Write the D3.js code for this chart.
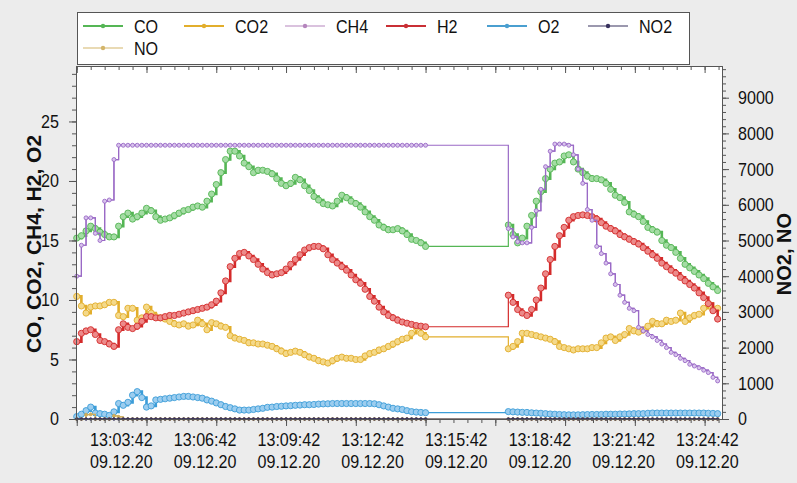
<!DOCTYPE html>
<html>
<head>
<meta charset="utf-8">
<script src="https://cdn.jsdelivr.net/npm/d3@7"></script>
<style>
  body { margin: 0; background: #ececec; }
  svg { display: block; font-family: "Liberation Sans", Arial, sans-serif; }
</style>
</head>
<body>
<svg width="797" height="483"></svg>
<script>
// ************** Data *****************

// logger samples, seconds after 13:00:00 (10 s interval, two runs with a pause between)
const sampleTimes = [].concat(d3.range(126, 886, 10), d3.range(1054, 1514, 10));

const coValues = [
  15.2,15.4,15.8,16.2,16.0,15.7,15.5,15.3,15.3,16.2,
  17.0,17.3,16.8,17.0,17.3,17.7,17.5,17.0,16.7,16.8,
  16.9,17.1,17.3,17.5,17.6,17.8,17.9,17.8,18.3,18.9,
  19.7,20.7,21.8,22.5,22.5,22.1,21.5,21.2,20.7,20.9,
  20.9,20.8,20.6,20.2,19.8,19.6,19.8,20.3,20.1,19.6,
  19.2,18.7,18.4,18.1,18.0,17.9,18.3,18.8,18.6,18.3,
  18.1,17.8,17.4,17.0,16.7,16.3,16.1,15.9,15.9,16.0,
  15.8,15.5,15.1,15.0,14.8,14.5,
  16.3,15.5,14.8,15.2,16.2,17.1,18.3,19.1,20.2,21.0,
  21.5,21.6,22.1,22.2,21.6,21.0,20.7,20.4,20.2,20.2,
  20.1,19.8,19.3,18.8,18.6,18.2,17.4,17.2,17.0,16.6,
  16.1,15.9,15.7,15.0,14.6,14.4,14.0,13.5,13.0,12.7,
  12.4,12.1,11.8,11.4,11.1,10.8
];

const co2Values = [
  10.3,9.5,8.9,9.4,9.5,9.5,9.6,9.8,9.8,8.7,
  8.6,9.3,9.3,8.3,8.5,9.4,8.9,8.6,8.5,8.4,
  8.2,8.0,7.9,8.0,7.8,7.9,8.3,8.0,7.5,8.1,
  8.0,7.8,7.7,7.0,6.8,6.7,6.6,6.4,6.4,6.3,
  6.3,6.2,6.1,5.9,5.7,5.5,5.6,5.7,5.6,5.4,
  5.2,5.1,4.9,4.8,4.7,4.9,5.1,5.2,5.1,5.1,
  5.0,5.0,5.3,5.5,5.6,5.8,5.9,6.1,6.3,6.5,
  6.7,6.8,7.2,7.7,7.2,6.9,
  5.9,6.1,6.5,7.2,7.2,7.1,7.0,6.9,6.8,6.7,
  6.5,6.1,6.0,5.9,5.8,5.9,5.9,5.9,6.0,6.0,
  6.4,6.8,6.9,6.6,6.9,7.1,7.6,7.4,7.3,7.5,
  7.8,8.2,8.0,8.0,8.3,8.2,8.3,8.9,8.2,8.5,
  8.7,8.8,9.3,9.7,9.2,9.3
];

const ch4Values = [
  12.0,14.6,16.9,16.9,15.6,15.0,18.3,18.4,21.8,23.0,
  23.0,23.0,23.0,23.0,23.0,23.0,23.0,23.0,23.0,23.0,
  23.0,23.0,23.0,23.0,23.0,23.0,23.0,23.0,23.0,23.0,
  23.0,23.0,23.0,23.0,23.0,23.0,23.0,23.0,23.0,23.0,
  23.0,23.0,23.0,23.0,23.0,23.0,23.0,23.0,23.0,23.0,
  23.0,23.0,23.0,23.0,23.0,23.0,23.0,23.0,23.0,23.0,
  23.0,23.0,23.0,23.0,23.0,23.0,23.0,23.0,23.0,23.0,
  23.0,23.0,23.0,23.0,23.0,23.0,
  16.0,15.3,14.9,14.8,14.8,16.1,17.5,19.3,21.2,22.5,
  23.1,23.1,23.1,23.0,22.2,21.0,19.8,17.6,16.7,14.5,
  13.9,13.1,12.2,11.3,10.4,9.8,9.3,9.1,7.7,7.4,
  7.1,6.9,6.6,6.3,6.0,5.6,5.4,5.1,4.9,4.6,
  4.45,4.3,4.1,3.9,3.5,3.2
];

const h2Values = [
  6.5,7.2,7.4,7.5,7.1,6.6,6.5,6.3,6.1,7.5,
  8.0,7.7,7.6,7.8,8.2,8.6,8.6,8.5,8.5,8.6,
  8.7,8.7,8.8,8.9,9.0,9.1,9.2,9.3,9.4,9.6,
  9.9,10.6,11.6,12.8,13.5,13.9,14.0,13.7,13.4,13.0,
  12.6,12.3,12.1,12.2,12.3,12.6,13.0,13.4,13.8,14.2,
  14.4,14.5,14.5,14.3,13.8,13.4,13.1,12.8,12.5,12.1,
  11.7,11.4,10.9,10.3,9.9,9.4,9.0,8.7,8.5,8.3,
  8.15,8.05,7.95,7.85,7.8,7.75,
  10.4,9.8,9.2,8.9,8.7,9.2,10.0,11.0,12.2,13.4,
  14.5,15.4,16.1,16.7,17.0,17.1,17.15,17.1,17.0,16.8,
  16.5,16.2,16.0,15.8,15.5,15.3,15.1,14.9,14.7,14.4,
  14.1,13.8,13.5,13.1,12.8,12.5,12.25,11.9,11.6,11.3,
  11.0,10.6,10.2,9.7,9.1,8.4
];

const o2Values = [
  0.2,0.4,0.7,1.0,0.5,0.45,0.4,0.3,0.6,1.3,
  1.15,1.4,2.0,2.3,1.8,1.0,1.1,1.6,1.65,1.7,
  1.75,1.8,1.85,1.9,1.9,1.85,1.8,1.75,1.6,1.5,
  1.35,1.2,1.05,0.95,0.85,0.75,0.75,0.75,0.8,0.85,
  0.9,0.98,1.0,1.05,1.07,1.1,1.12,1.15,1.17,1.2,
  1.2,1.22,1.25,1.27,1.28,1.3,1.3,1.3,1.3,1.3,
  1.3,1.3,1.3,1.3,1.28,1.2,1.1,1.0,0.9,0.85,
  0.8,0.7,0.62,0.58,0.55,0.53,
  0.62,0.6,0.58,0.56,0.55,0.52,0.5,0.48,0.45,0.42,
  0.4,0.38,0.36,0.35,0.35,0.35,0.36,0.37,0.38,0.38,
  0.38,0.4,0.4,0.4,0.42,0.42,0.43,0.45,0.45,0.45,
  0.48,0.5,0.5,0.5,0.5,0.5,0.5,0.5,0.5,0.5,
  0.5,0.5,0.5,0.48,0.47,0.45
];

// right axis (ppm)
const no2Values = [
  0,0,0,0,0,0,0,0,0,0, 0,0,0,0,0,0,0,0,0,0,
  0,0,0,0,0,0,0,0,0,0, 0,0,0,0,0,0,0,0,0,0,
  0,0,0,0,0,0,0,0,0,0, 0,0,0,0,0,0,0,0,0,0,
  0,0,0,0,0,0,0,0,0,0, 0,0,0,0,0,0,
  0,0,0,0,0,0,0,0,0,0, 0,0,0,0,0,0,0,0,0,0,
  0,0,0,0,0,0,0,0,0,0, 0,0,0,0,0,0,0,0,0,0,
  0,0,0,0,0,0
];

const noValues = [
  0,0,120,130,0,0,0,0,90,60, 0,0,0,0,0,0,0,0,0,0,
  0,0,0,0,0,0,0,0,0,0, 0,0,0,0,0,0,0,0,0,0,
  0,0,0,0,0,0,0,0,0,0, 0,0,0,0,0,0,0,0,0,0,
  0,0,0,0,0,0,0,0,0,0, 0,0,0,0,0,0,
  0,0,0,0,0,0,0,0,0,0, 0,0,0,0,0,0,0,0,0,0,
  0,0,0,0,0,0,0,0,0,0, 0,0,0,0,0,0,0,0,0,0,
  0,0,0,0,0,0
];

const seriesNames = ["CO", "CO2", "CH4", "H2", "O2", "NO2", "NO"];

const timeTickSeconds = [222, 402, 582, 762, 942, 1122, 1302, 1482];
const timeTickLabels = ["13:03:42", "13:06:42", "13:09:42", "13:12:42", "13:15:42", "13:18:42", "13:21:42", "13:24:42"];
const dateLabel = "09.12.20";

const leftTicks = [0, 5, 10, 15, 20, 25];
const rightTicks = [0, 1000, 2000, 3000, 4000, 5000, 6000, 7000, 8000, 9000];


// *************** Graph Setup *****************

let svg = d3.select("svg");

const plot = { left: 76, right: 722, top: 66, bottom: 419 };

let xScale = d3.scaleLinear().domain([124.4, 1513.4]).range([plot.left, plot.right]);
let yLeft = d3.scaleLinear().domain([0, 29.66]).range([plot.bottom, plot.top]);
let yRight = d3.scaleLinear().domain([0, 9888]).range([plot.bottom, plot.top]);

// the exported picture is a bit narrower than the font, squeeze text to match
function squeeze(sel, k) {
  sel.each(function () {
    const w = this.getComputedTextLength();
    d3.select(this).attr("textLength", w * (k || 0.87)).attr("lengthAdjust", "spacingAndGlyphs");
  });
}

svg.append("rect")
  .attr("x", plot.left).attr("y", plot.top)
  .attr("width", plot.right - plot.left).attr("height", plot.bottom - plot.top)
  .attr("fill", "#fff");

const series = [
  { name: "CO2", values: co2Values, axis: yLeft, color: "#e2ae2c", fill: "#f4d98a", r: 3.1, w: 2.6 },
  { name: "CO",  values: coValues,  axis: yLeft, color: "#55b655", fill: "#a4dca4", r: 3.1, w: 2.6 },
  { name: "H2",  values: h2Values,  axis: yLeft, color: "#d42b2b", fill: "#ec8a8a", r: 3.1, w: 2.6 },
  { name: "O2",  values: o2Values,  axis: yLeft, color: "#3c9dd8", fill: "#9ccdef", r: 3.1, w: 2.6 },
  { name: "CH4", values: ch4Values, axis: yLeft, color: "#9a6ac6", fill: "#d8c3ec", r: 2.0, w: 1.2 },
  { name: "NO",  values: noValues,  axis: yRight, color: "#cfae5c", fill: "#cfae5c", r: 1.5, w: 1 },
  { name: "NO2", values: no2Values, axis: yRight, color: "#38325e", fill: "#38325e", r: 1.3, w: 1 }
];

// the pause between the two runs is drawn as a thin step only
const gapStart = 876, gapEnd = 1054;

let marks = svg.append("g");

series.forEach(function (s) {
  const pts = sampleTimes.map(function (t, i) { return [t, s.values[i]]; });
  const line = d3.line()
    .x(function (d) { return xScale(d[0]); })
    .y(function (d) { return s.axis(d[1]); })
    .curve(d3.curveStepAfter);

  // thin line across the whole record (includes the pause)
  marks.append("path")
    .datum(pts)
    .attr("d", line)
    .attr("fill", "none")
    .attr("stroke", s.color)
    .attr("stroke-width", 1.2);

  // heavier band under the markers, one per run
  [pts.filter(function (d) { return d[0] <= gapStart; }), pts.filter(function (d) { return d[0] >= gapEnd; })]
    .forEach(function (run) {
      marks.append("path")
        .datum(run)
        .attr("d", line)
        .attr("fill", "none")
        .attr("stroke", s.color)
        .attr("stroke-width", s.w);
    });

  marks.append("g").selectAll("circle")
    .data(pts)
    .enter().append("circle")
    .attr("cx", function (d) { return xScale(d[0]); })
    .attr("cy", function (d) { return s.axis(d[1]); })
    .attr("r", s.r)
    .attr("fill", s.fill)
    .attr("stroke", s.color)
    .attr("stroke-width", 0.9);
});

// *************** Axes *****************

const axisColor = "#555";

function styleAxis(g) {
  g.selectAll("path, line").attr("stroke", axisColor);
  g.selectAll("text").attr("fill", "#111").style("font-size", "18.5px")
    .style("font-family", "'Liberation Sans', Arial, sans-serif");
}

// left
svg.append("g").attr("transform", "translate(" + plot.left + ",0)")
  .call(d3.axisLeft(yLeft).tickValues(d3.range(0, 30, 1)).tickSize(4).tickSizeOuter(0).tickFormat(""))
  .call(styleAxis);
let leftAxis = svg.append("g").attr("transform", "translate(" + plot.left + ",0)")
  .call(d3.axisLeft(yLeft).tickValues(leftTicks).tickSize(7).tickSizeOuter(0).tickPadding(10))
  .call(styleAxis);
squeeze(leftAxis.selectAll("text"));

// right
svg.append("g").attr("transform", "translate(" + plot.right + ",0)")
  .call(d3.axisRight(yRight).tickValues(d3.range(0, 9900, 200)).tickSize(4).tickSizeOuter(0).tickFormat(""))
  .call(styleAxis);
let rightAxis = svg.append("g").attr("transform", "translate(" + plot.right + ",0)")
  .call(d3.axisRight(yRight).tickValues(rightTicks).tickSize(7).tickSizeOuter(0).tickPadding(9).tickFormat(d3.format("d")))
  .call(styleAxis);
squeeze(rightAxis.selectAll("text"));

// bottom + top (ticks every 30 s, longer every 150 s)
[plot.bottom, plot.top].forEach(function (y) {
  svg.append("g").attr("transform", "translate(0," + y + ")")
    .call(d3.axisBottom(xScale).tickValues(d3.range(126, 1514, 30)).tickSize(4).tickSizeOuter(0).tickFormat(""))
    .call(styleAxis);
  svg.append("g").attr("transform", "translate(0," + y + ")")
    .call(d3.axisBottom(xScale).tickValues(d3.range(126, 1514, 150)).tickSize(7).tickSizeOuter(0).tickFormat(""))
    .call(styleAxis);
});

let xLabels = svg.append("g")
  .style("font-size", "18.5px").attr("fill", "#111").attr("text-anchor", "middle");
timeTickSeconds.forEach(function (t, i) {
  xLabels.append("text").attr("x", xScale(t)).attr("y", 445.5).text(timeTickLabels[i]);
  xLabels.append("text").attr("x", xScale(t)).attr("y", 468).text(dateLabel);
});
squeeze(xLabels.selectAll("text"));

// axis titles
svg.append("text")
  .attr("transform", "translate(41," + 244 + ") rotate(-90)")
  .attr("text-anchor", "middle")
  .style("font-size", "21px").style("font-weight", "bold").attr("fill", "#111")
  .text("CO, CO2, CH4, H2, O2");

svg.append("text")
  .attr("transform", "translate(791," + 254 + ") rotate(-90)")
  .attr("text-anchor", "middle")
  .style("font-size", "20px").style("font-weight", "bold").attr("fill", "#111")
  .text("NO2, NO");

// *************** Legend *****************

const legendColors = { CO: "#55b655", CO2: "#e2ae2c", CH4: "#b585bd", H2: "#c92f35", O2: "#4a9fd0", NO2: "#38325e", NO: "#d3b56a" };

let legend = svg.append("g");
legend.append("rect")
  .attr("x", 77.5).attr("y", 12.5).attr("width", 612).attr("height", 52)
  .attr("fill", "#fff").attr("stroke", "#555");

seriesNames.forEach(function (name, i) {
  const x0 = 83 + (i % 6) * 101;
  const y0 = i < 6 ? 26 : 48;
  const g = legend.append("g");
  g.append("line").attr("x1", x0).attr("x2", x0 + 40).attr("y1", y0).attr("y2", y0)
    .attr("stroke", legendColors[name]).attr("stroke-width", name === "CH4" || name === "NO2" || name === "NO" ? 1.2 : 2);
  g.append("circle").attr("cx", x0 + 20).attr("cy", y0).attr("r", 2.2)
    .attr("fill", legendColors[name]);
  g.append("text").attr("x", x0 + 51).attr("y", y0 + 6.5)
    .style("font-size", "18.5px").attr("fill", "#111").text(name)
    .call(squeeze);
});
</script>
</body>
</html>
